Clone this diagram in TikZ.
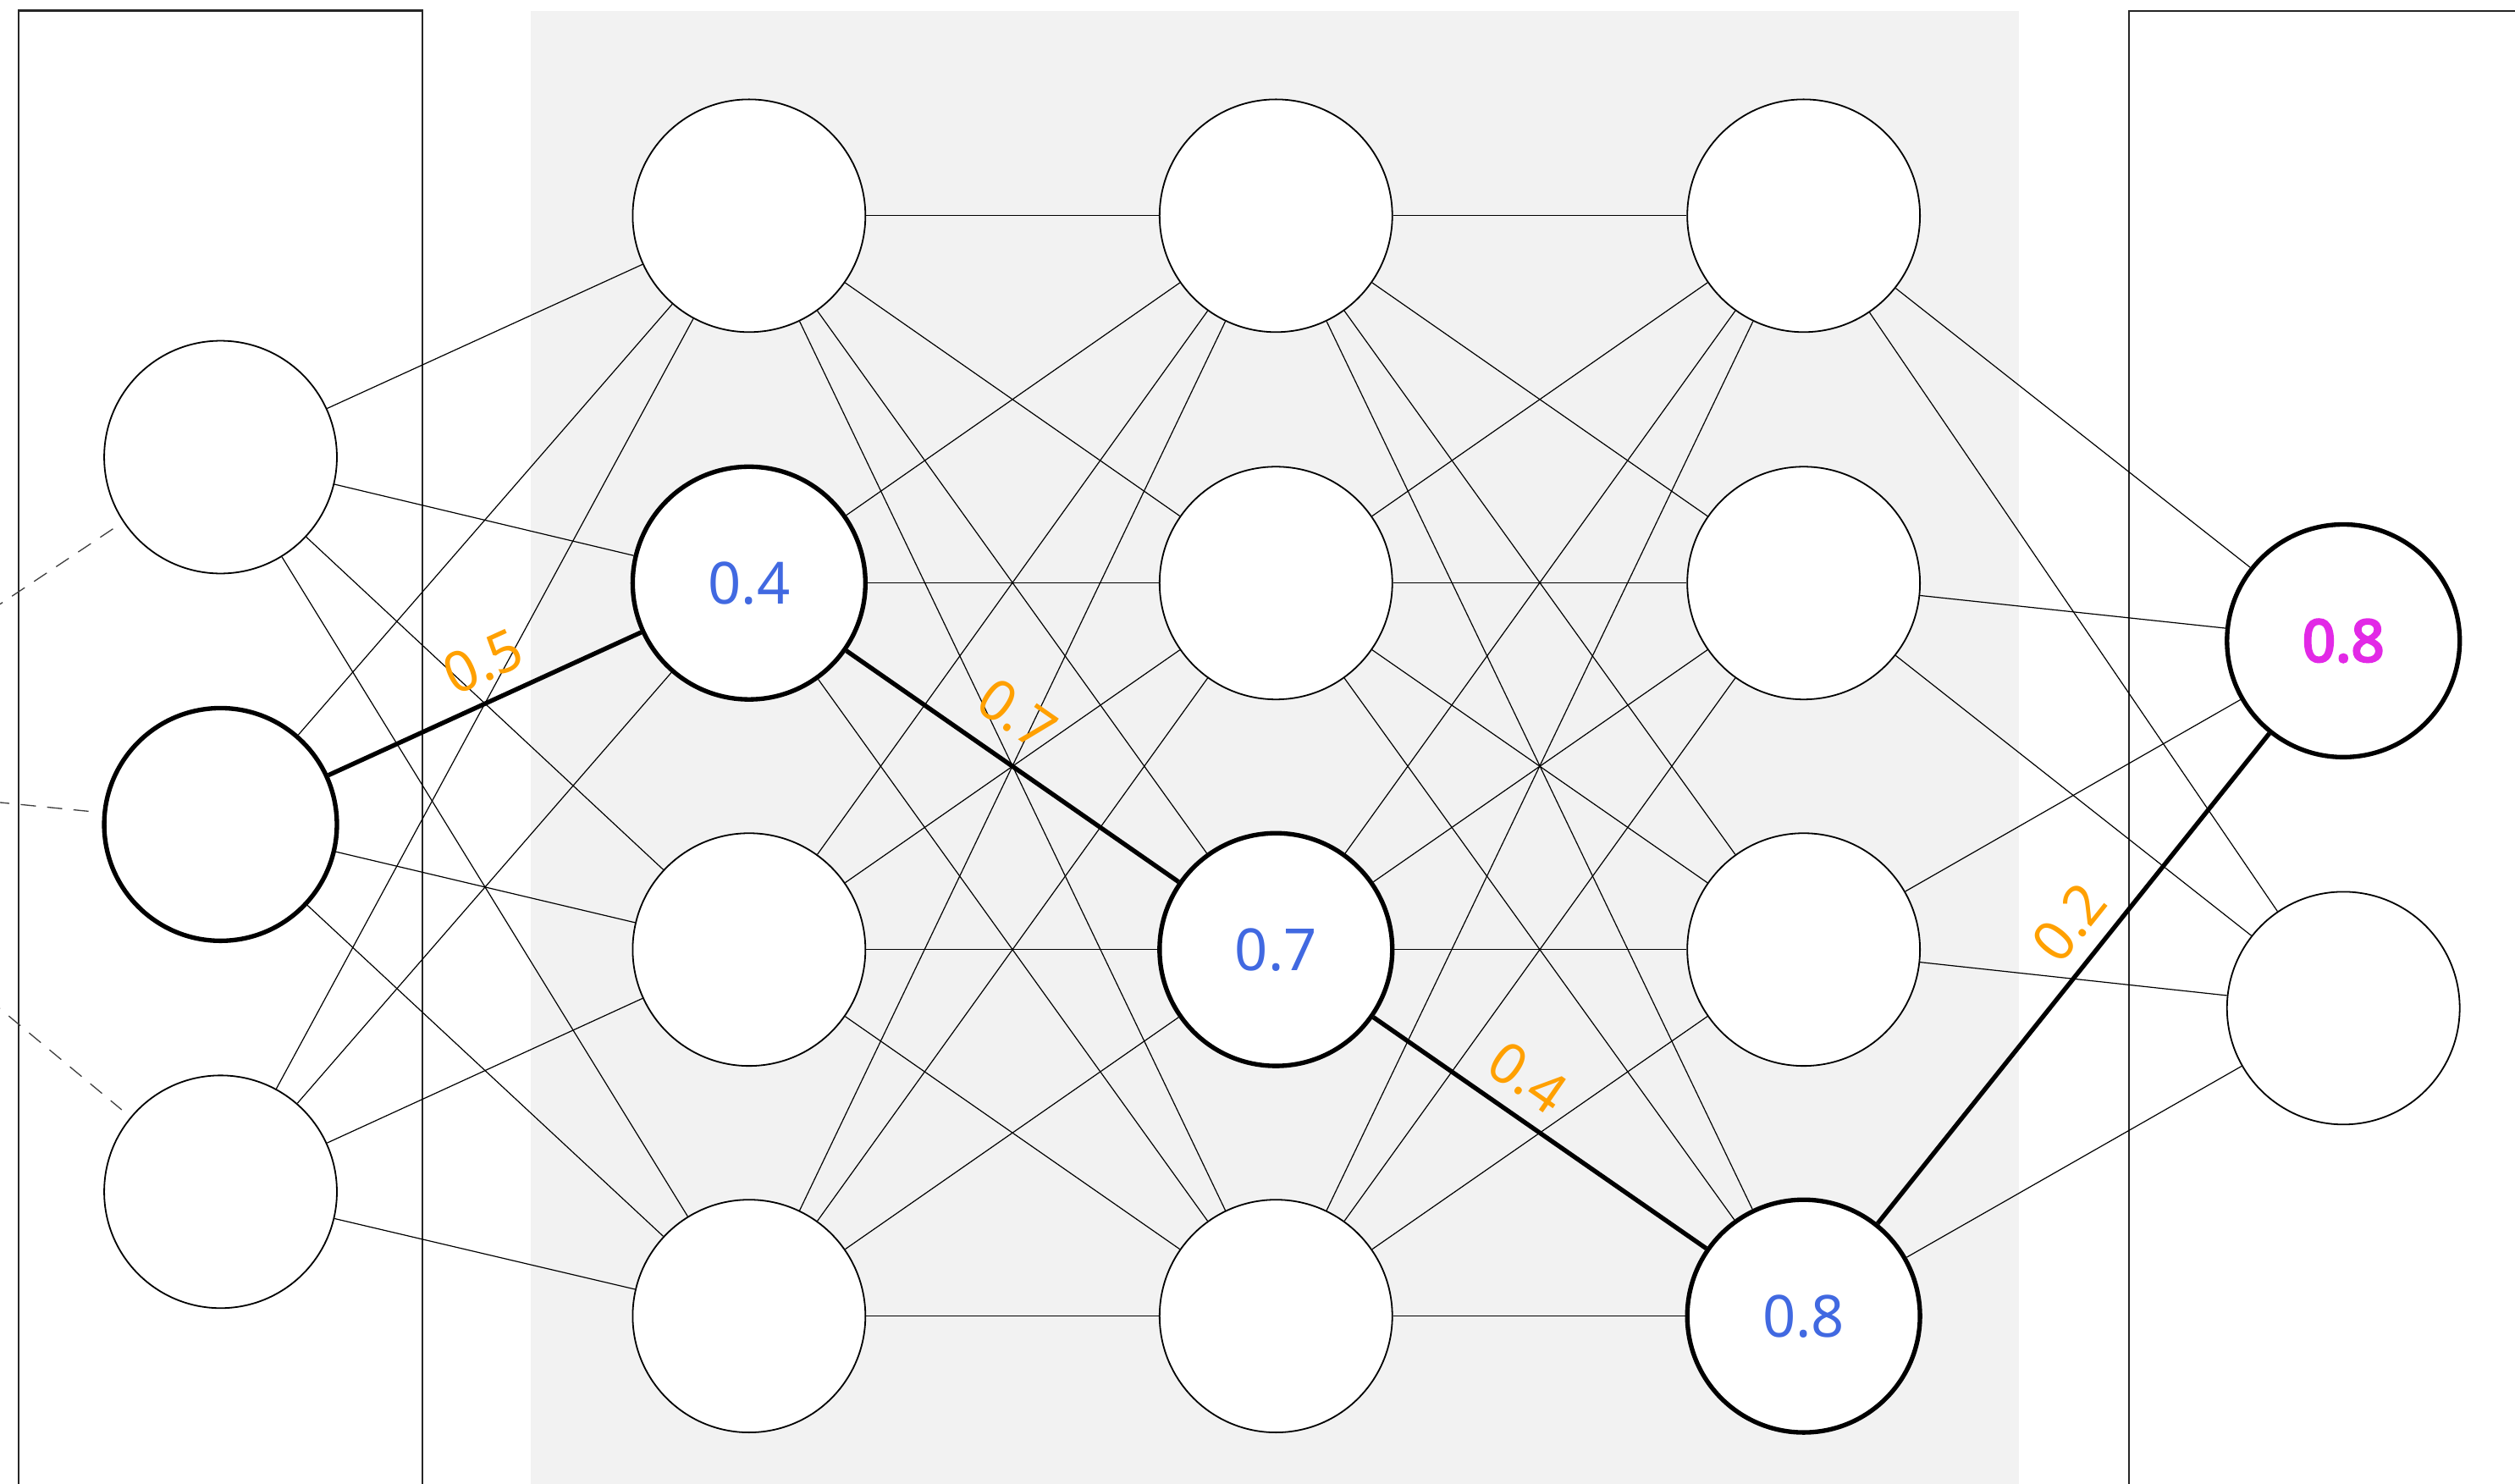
\documentclass[tikz,border=0pt]{standalone}
\usepackage{fontspec}
\setmainfont{Noto Sans}
\newfontfamily\heavyface{Noto Sans}[FakeBold=4]
\definecolor{panelgray}{HTML}{F2F2F2}
\definecolor{valblue}{HTML}{4169E1}
\definecolor{wgtorange}{HTML}{FFA000}
\definecolor{outmagenta}{HTML}{E229E6}
\begin{document}
\begin{tikzpicture}[x=0.01cm, y=-0.01cm,
  neuron/.style={circle, draw=black, fill=white, line width=0.27pt,
    minimum size=1.45cm, inner sep=0pt, font=\fontsize{10.3}{12}\selectfont},
  active/.style={neuron, line width=0.8pt},
  link/.style={line width=0.18pt, black},
  hotlink/.style={line width=0.8pt, black},
  weight/.style={sloped, inner sep=0pt, text=wgtorange,
    font=\fontsize{10}{12}\selectfont},
  feed/.style={line width=0.2pt, black!75, dash pattern=on 2.7pt off 2pt, shorten >=2pt},
  frame/.style={draw=black!85, line width=0.33pt}
]
\useasboundingbox (0,0) rectangle (1568,925.17);
\begin{scope}
\clip (0,0) rectangle (1568,925.17);

% hidden-layer panel and the input/output frames
\fill[panelgray] (331,6.7) rectangle (1258.7,940);
\draw[frame] (11.8,940) -- (11.8,6.6) -- (263.4,6.6) -- (263.4,940);
\draw[frame] (1327.4,940) -- (1327.4,6.7) -- (1600,6.7);

% input layer
\node[neuron] (i1) at (137.5,285) {};
\node[active] (i2) at (137.5,514) {};
\node[neuron] (i3) at (137.5,743) {};

% hidden layer 1
\node[neuron] (a1) at (467,134.5) {};
\node[active] (a2) at (467,363.5) {\textcolor{valblue}{0.4}};
\node[neuron] (a3) at (467,592) {};
\node[neuron] (a4) at (467,820.5) {};

% hidden layer 2
\node[neuron] (b1) at (795.5,134.5) {};
\node[neuron] (b2) at (795.5,363.5) {};
\node[active] (b3) at (795.5,592) {\textcolor{valblue}{0.7}};
\node[neuron] (b4) at (795.5,820.5) {};

% hidden layer 3
\node[neuron] (c1) at (1124.5,134.5) {};
\node[neuron] (c2) at (1124.5,363.5) {};
\node[neuron] (c3) at (1124.5,592) {};
\node[active] (c4) at (1124.5,820.5) {\textcolor{valblue}{0.8}};

% output layer
\node[active] (o1) at (1461,399.5) {\textcolor{outmagenta}{\heavyface 0.8}};
\node[neuron] (o2) at (1461,628.5) {};

% incoming connections from earlier units
\coordinate (f1) at (-20,390);
\coordinate (f2) at (-20,498.3);
\coordinate (f3) at (-20,612.3);
\draw[feed] (f1) -- (i1);
\draw[feed] (f2) -- (i2);
\draw[feed] (f3) -- (i3);

% dense connections
\foreach \s in {1,2,3}{\foreach \t in {1,2,3,4}{%
  \ifnum\s\t=22 \else \draw[link] (i\s) -- (a\t);\fi}}
\foreach \s in {1,2,3,4}{\foreach \t in {1,2,3,4}{%
  \ifnum\s\t=23 \else \draw[link] (a\s) -- (b\t);\fi}}
\foreach \s in {1,2,3,4}{\foreach \t in {1,2,3,4}{%
  \ifnum\s\t=34 \else \draw[link] (b\s) -- (c\t);\fi}}
\foreach \s in {1,2,3,4}{\foreach \t in {1,2}{%
  \ifnum\s\t=41 \else \draw[link] (c\s) -- (o\t);\fi}}

% highlighted path with its weights
\draw[hotlink] (i2) -- node[weight, pos=0.546, above=2.9pt] {0.5} (a2);
\draw[hotlink] (a2) -- node[weight, pos=0.436, above=4pt] {0.7} (b3);
\draw[hotlink] (b3) -- node[weight, pos=0.398, above=2.8pt] {0.4} (c4);
\draw[hotlink] (c4) -- node[weight, pos=0.565, above=2.65pt] {0.2} (o1);
\end{scope}
\end{tikzpicture}
\end{document}
